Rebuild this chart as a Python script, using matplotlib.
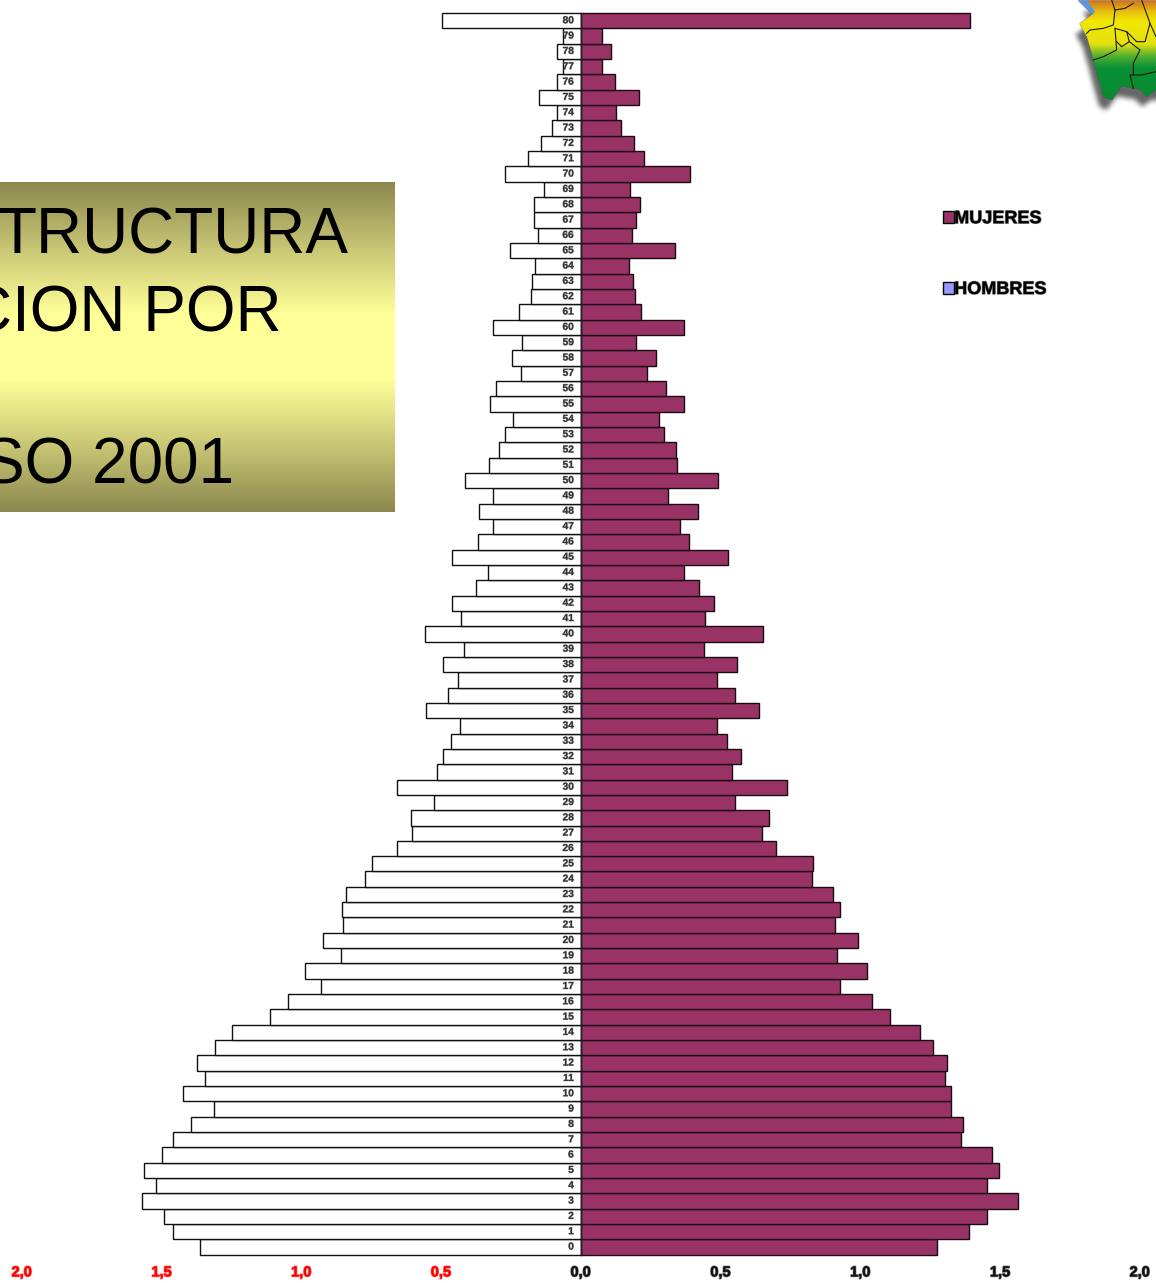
import numpy as np
import matplotlib
matplotlib.use("Agg")
import matplotlib.pyplot as plt
from matplotlib.patches import Patch
from matplotlib.path import Path
from matplotlib.colors import LinearSegmentedColormap
from matplotlib.transforms import ScaledTranslation
import matplotlib.patheffects as pe

plt.rcParams['font.family'] = ['Liberation Sans', 'DejaVu Sans']

ages = list(range(81))
mujeres = [1.274, 1.388, 1.453, 1.564, 1.453, 1.496, 1.470, 1.360, 1.367, 1.324,
           1.324, 1.302, 1.309, 1.259, 1.213, 1.106, 1.041, 0.927, 1.023, 0.916,
           0.991, 0.909, 0.927, 0.902, 0.826, 0.830, 0.698, 0.648, 0.673, 0.551,
           0.737, 0.540, 0.572, 0.522, 0.487, 0.637, 0.551, 0.487, 0.558, 0.440,
           0.651, 0.444, 0.476, 0.422, 0.369, 0.526, 0.386, 0.354, 0.419, 0.311,
           0.490, 0.343, 0.340, 0.297, 0.279, 0.369, 0.304, 0.236, 0.268, 0.197,
           0.369, 0.215, 0.193, 0.186, 0.172, 0.336, 0.182, 0.197, 0.211, 0.175,
           0.390, 0.225, 0.190, 0.143, 0.125, 0.208, 0.122, 0.075, 0.107, 0.075,
           1.392]
hombres = [1.363, 1.460, 1.492, 1.571, 1.521, 1.564, 1.499, 1.460, 1.395, 1.313,
           1.424, 1.345, 1.374, 1.309, 1.249, 1.113, 1.048, 0.930, 0.987, 0.859,
           0.923, 0.852, 0.855, 0.841, 0.773, 0.748, 0.658, 0.605, 0.608, 0.526,
           0.658, 0.515, 0.494, 0.465, 0.433, 0.555, 0.476, 0.440, 0.494, 0.419,
           0.558, 0.429, 0.462, 0.376, 0.333, 0.462, 0.369, 0.315, 0.365, 0.315,
           0.415, 0.329, 0.293, 0.272, 0.243, 0.326, 0.304, 0.215, 0.247, 0.211,
           0.315, 0.222, 0.179, 0.175, 0.165, 0.254, 0.154, 0.168, 0.168, 0.132,
           0.272, 0.190, 0.143, 0.104, 0.086, 0.150, 0.086, 0.064, 0.086, 0.064,
           0.497]
x_ticks = [-2.0, -1.5, -1.0, -0.5, 0.0, 0.5, 1.0, 1.5, 2.0]
x_labels = ['2,0', '1,5', '1,0', '0,5', '0,0', '0,5', '1,0', '1,5', '2,0']
title_lines = ['TRUCTURA', 'CION POR', 'SO 2001']

W, H = 1156, 1283
fig = plt.figure(figsize=(W / 100, H / 100), dpi=100)
top, bottom = 12.8, 1255.0
ax = fig.add_axes([21.8 / W, 1 - bottom / H, (1139.8 - 21.8) / W, (bottom - top) / H])
ax.barh(ages, [-v for v in hombres], height=1.0, color='white', edgecolor='#111111', linewidth=1.0, zorder=2, clip_on=False)
ax.barh(ages, mujeres, height=1.0, color='#993366', edgecolor='#1a0a14', linewidth=1.0, zorder=2, clip_on=False)
ax.set_xlim(-2, 2)
ax.set_ylim(-0.52, 80.52)
ax.set_axisbelow(False)
for s in ('top', 'right', 'bottom'):
    ax.spines[s].set_visible(False)
ax.spines['left'].set_position(('data', 0))
ax.spines['left'].set_zorder(3)
ax.spines['left'].set_linewidth(1.0)
ax.spines['left'].set_color('#222222')
ax.set_yticks(ages)
ax.set_yticklabels([str(a) for a in ages], fontsize=7.3, fontweight='bold', color='#333333')
ax.tick_params(axis='y', length=0, pad=5)
up = ScaledTranslation(0, 1.5 / 100, fig.dpi_scale_trans)
for lab in ax.get_yticklabels():
    lab.set_transform(lab.get_transform() + up)
    lab.set_path_effects([pe.withStroke(linewidth=0.6, foreground='#666666', alpha=0.5)])
ax.set_xticks(x_ticks)
ax.set_xticklabels(x_labels, fontsize=10.5, fontweight='bold')
ax.tick_params(axis='x', length=0, pad=7.5)
for t, lab in zip(x_ticks, ax.get_xticklabels()):
    c = 'red' if t < 0 else '#111111'
    lab.set_color(c)
    lab.set_path_effects([pe.withStroke(linewidth=1.1, foreground=c, alpha=0.6)])

handles = [Patch(facecolor='#993366', edgecolor='black', label='MUJERES'),
           Patch(facecolor='#9999ff', edgecolor='black', label='HOMBRES')]
leg = fig.legend(handles=handles, loc='upper left', bbox_to_anchor=(935.8 / W, 1 - 203 / H),
                 frameon=False, prop={'size': 13, 'weight': 'bold'}, labelspacing=2.98,
                 handlelength=0.62, handleheight=0.62, handletextpad=0.0, borderpad=0.4,
                 borderaxespad=0)
for txt in leg.get_texts():
    txt.set_path_effects([pe.withStroke(linewidth=1.0, foreground='#333333', alpha=0.6)])

# overlay in pixel coordinates for the title panel and the map decoration
ov = fig.add_axes([0, 0, 1, 1], facecolor='none')
ov.axis('off')
box_cmap = LinearSegmentedColormap.from_list('b', ['#8c8850', '#c8c674', '#ffff99', '#ffff99', '#c8c674', '#8c8850'])
ov.imshow(np.linspace(0, 1, 256).reshape(-1, 1), cmap=box_cmap, aspect='auto',
          extent=(0, 395, 512, 182), zorder=1)
for s, xr, yb in zip(title_lines, (349, 282, 234), (254, 331, 484)):
    ov.text(xr, yb, s, ha='right', va='baseline', fontsize=46, color='black', zorder=2)

# map decoration, top right: a shape mask with gradient and soft shadow
map_cmap = LinearSegmentedColormap.from_list(
    'm', [(0, '#d0701e'), (0.12, '#e8c010'), (0.22, '#f2e800'), (0.45, '#e6e010'),
          (0.58, '#50b030'), (0.70, '#0a9038'), (1, '#0a8a30')])
outline = [(50, 0), (258, 0), (258, 270), (230, 290), (205, 265), (190, 265), (155, 258), (125, 300),
           (100, 290), (80, 220), (70, 180), (50, 110), (28, 70), (70, 40)]
gx, gy = np.meshgrid(np.arange(258), np.arange(375))
pts = np.column_stack([gx.ravel(), gy.ravel()])
mask = Path(outline).contains_points(pts).reshape(gx.shape).astype(float)


def blur(a, r):
    k = np.ones(2 * r + 1) / (2 * r + 1)
    for _ in range(2):
        a = np.apply_along_axis(lambda v: np.convolve(v, k, mode='same'), 0, a)
        a = np.apply_along_axis(lambda v: np.convolve(v, k, mode='same'), 1, a)
    return a


pad = 40
big = np.pad(mask, pad, mode='edge')
shifted = np.roll(np.roll(big, 32, axis=0), -14, axis=1)
shadow = np.clip(blur(shifted, 9), 0, 1)[pad:-pad, pad:-pad]
colors = map_cmap(gy / 290.0)
rgba = np.ones(mask.shape + (4,))
rgba[..., :3] = 0.0
rgba[..., 3] = shadow ** 1.4 * 0.6
m = mask[..., None]
rgba[..., :3] = colors[..., :3] * m + rgba[..., :3] * (1 - m)
rgba[..., 3] = mask + rgba[..., 3] * (1 - mask)
blue = Path([(22, 0), (50, 0), (75, 35), (65, 42)]).contains_points(pts).reshape(gx.shape)
rgba[blue] = (0.35, 0.6, 0.88, 1.0)
ov.imshow(rgba, aspect='auto', extent=(1070, 1156, 125, 0), interpolation='bilinear', zorder=3)
borders = [
    [(125, 0), (135, 30), (130, 75), (100, 85), (60, 90), (50, 100)],
    [(135, 30), (165, 25), (190, 10)],
    [(215, 0), (240, 70), (225, 125), (200, 125), (170, 95), (135, 85)],
    [(135, 85), (140, 150), (100, 170), (70, 180)],
    [(170, 95), (178, 125), (155, 140), (140, 125)],
    [(178, 125), (210, 150), (190, 190), (190, 225), (215, 225), (258, 215)],
    [(190, 225), (180, 225), (190, 265)],
    [(240, 70), (258, 110)],
]
for b in borders:
    bx = [1070 + p[0] / 3 for p in b]
    by = [p[1] / 3 for p in b]
    ov.plot(bx, by, color='#1a1a00', lw=0.8, zorder=4)
ov.set_xlim(0, W)
ov.set_ylim(H, 0)

fig.savefig('out.png', dpi=100)
